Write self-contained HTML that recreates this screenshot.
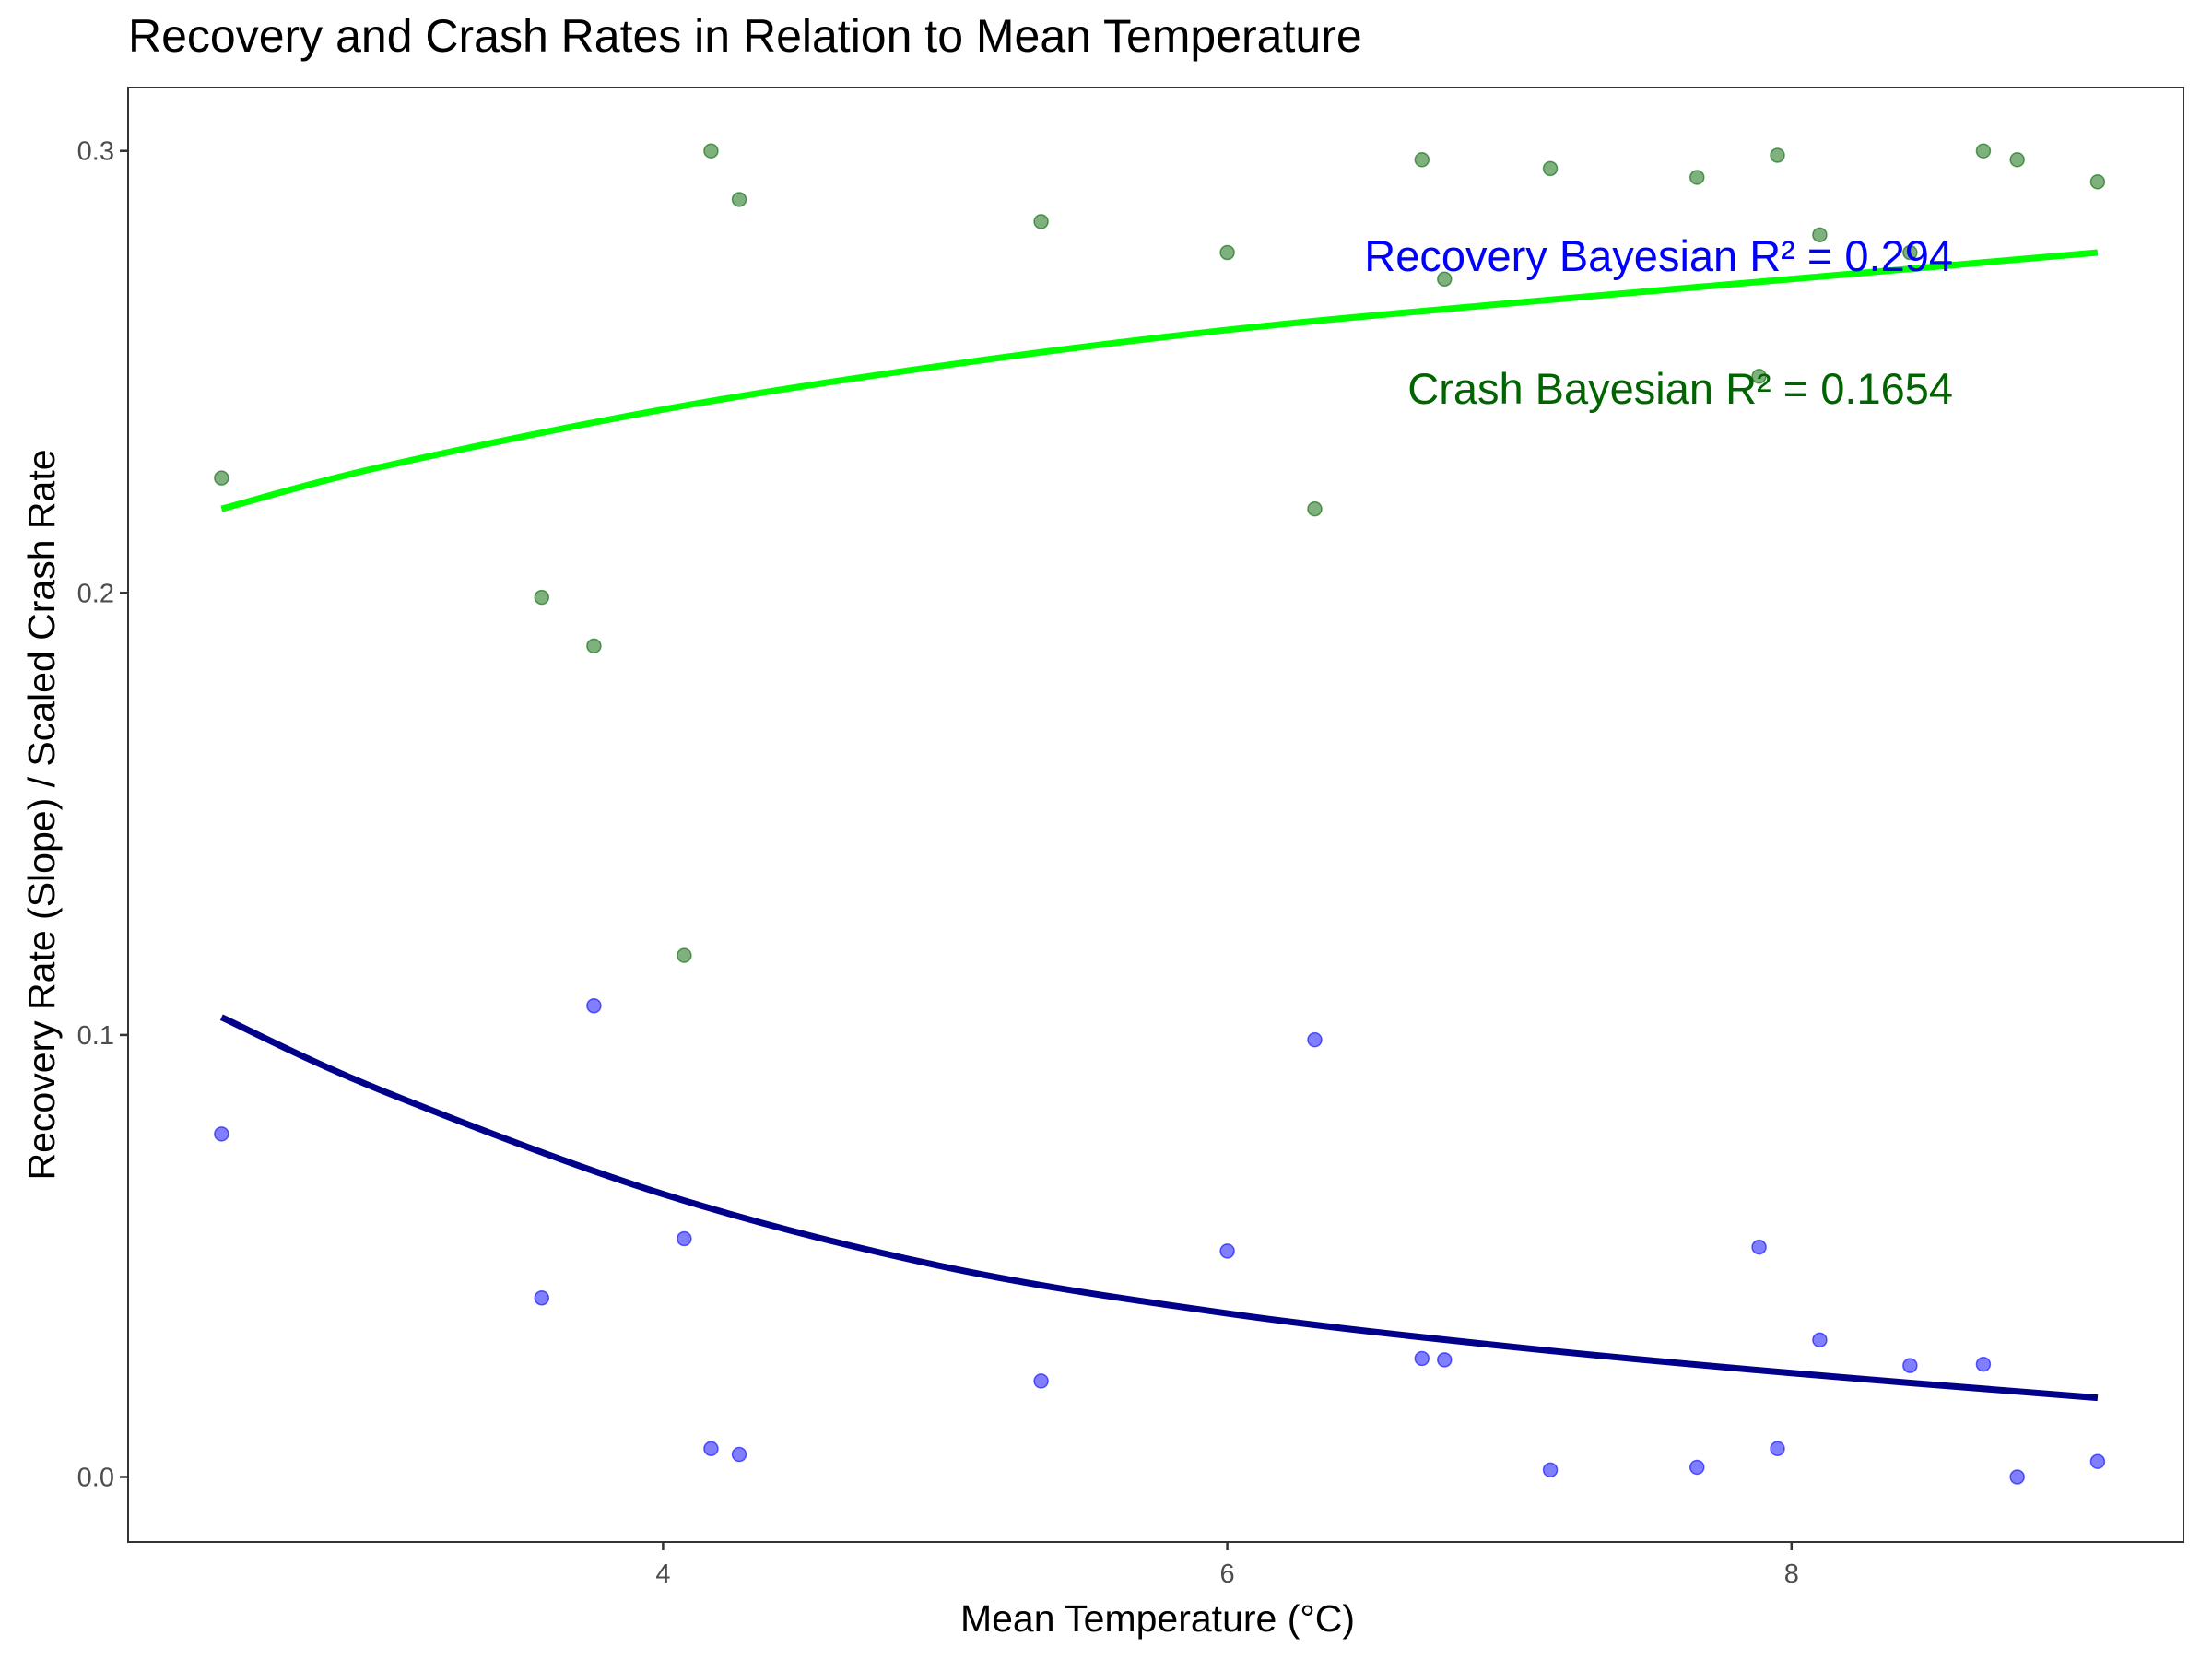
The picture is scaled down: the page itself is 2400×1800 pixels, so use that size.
<!DOCTYPE html>
<html><head><meta charset="utf-8"><style>
html,body{margin:0;padding:0;background:#fff;}
svg{display:block;font-family:"Liberation Sans",Arial,sans-serif;}
</style></head><body>
<svg id="chart" width="2400" height="1800" viewBox="0 0 2400 1800">
<rect width="2400" height="1800" fill="#fff"/>
<text x="139" y="56" font-size="50" fill="#000">Recovery and Crash Rates in Relation to Mean Temperature</text>
<g id="plot"></g>
<text x="1256" y="1770" font-size="41" text-anchor="middle" fill="#000">Mean Temperature (°C)</text>
<text transform="translate(59,884) rotate(-90)" font-size="41" text-anchor="middle" fill="#000">Recovery Rate (Slope) / Scaled Crash Rate</text>
</svg>
<script>
const temps = [2.435,3.57,3.755,4.075,4.17,4.27,5.34,6.0,6.31,6.69,6.77,7.145,7.665,7.885,7.95,8.10,8.42,8.68,8.80,9.085];
const crashScaled = [0.226,0.199,0.188,0.118,0.300,0.289,0.284,0.277,0.219,0.298,0.271,0.296,0.294,0.249,0.299,0.281,0.277,0.300,0.298,0.293];
const recovery = [0.0776,0.0405,0.1066,0.0539,0.0064,0.0051,0.0217,0.0511,0.0989,0.0268,0.0265,0.0016,0.0022,0.052,0.0064,0.031,0.0252,0.0255,0.0,0.0035];
const fitX = [2.435,3,4,5,6,7,8,9.085];
const crashFit = [0.219,0.2285,0.2415,0.2515,0.2595,0.2655,0.271,0.277];
const recoveryFit = [0.104,0.0875,0.064,0.0475,0.037,0.0295,0.0235,0.0179];
const xTicks = [4,6,8];
const yTicks = [0.0,0.1,0.2,0.3];
const yTickLabels = ["0.0","0.1","0.2","0.3"];

const NS="http://www.w3.org/2000/svg";
const P={l:139,r:2369,t:95,b:1673};
const xs=v=>719.4+(v-4)*306.1;
const ys=v=>1602.5-v*4796;
const g=document.getElementById('plot');
function mk(t,a){const e=document.createElementNS(NS,t);for(const k in a)e.setAttribute(k,a[k]);return e;}

const frame=mk('rect',{x:P.l,y:P.t,width:P.r-P.l,height:P.b-P.t,fill:'none',stroke:'#333',"stroke-width":2});


g.appendChild(frame);

xTicks.forEach(v=>{
  const t=mk('line',{x1:xs(v),x2:xs(v),y1:P.b,y2:P.b+9,stroke:'#333',"stroke-width":2.5});
  
  
  g.appendChild(t);
  const l=mk('text',{x:xs(v),y:P.b+44,"font-size":29,fill:'#4d4d4d',"text-anchor":'middle'});
  l.textContent=v;
  
  
  g.appendChild(l);
});
yTicks.forEach((v,i)=>{
  const t=mk('line',{x1:P.l-9,x2:P.l,y1:ys(v),y2:ys(v),stroke:'#333',"stroke-width":2.5});
  
  
  g.appendChild(t);
  const l=mk('text',{x:P.l-15,y:ys(v)+10,"font-size":29,fill:'#4d4d4d',"text-anchor":'end'});
  l.textContent=yTickLabels[i];
  
  
  g.appendChild(l);
});

function curve(xv,yv){
  const p=xv.map((x,i)=>[xs(x),ys(yv[i])]);
  let d='M'+p[0][0]+','+p[0][1];
  for(let i=0;i<p.length-1;i++){
    const p0=p[Math.max(0,i-1)],p1=p[i],p2=p[i+1],p3=p[Math.min(p.length-1,i+2)];
    const c1=[p1[0]+(p2[0]-p0[0])/6,p1[1]+(p2[1]-p0[1])/6];
    const c2=[p2[0]-(p3[0]-p1[0])/6,p2[1]-(p3[1]-p1[1])/6];
    d+='C'+c1+' '+c2+' '+p2;
  }
  return d;
}

temps.forEach((x,i)=>{
  const c=mk('circle',{cx:xs(x),cy:ys(crashScaled[i]),r:7.5,fill:'rgba(0,100,0,0.5)',stroke:'rgba(0,100,0,0.6)',"stroke-width":1.5});
  
  
  g.appendChild(c);
});
temps.forEach((x,i)=>{
  const c=mk('circle',{cx:xs(x),cy:ys(recovery[i]),r:7.5,fill:'rgba(0,0,255,0.5)',stroke:'rgba(0,0,255,0.6)',"stroke-width":1.5});
  
  
  g.appendChild(c);
});

const cl=mk('path',{d:curve(fitX,crashFit),fill:'none',stroke:'#00ff00',"stroke-width":7});


g.appendChild(cl);
const rl=mk('path',{d:curve(fitX,recoveryFit),fill:'none',stroke:'#00008b',"stroke-width":7});


g.appendChild(rl);

const a1=mk('text',{x:2119,y:294,"font-size":47,fill:'#0000ff',"text-anchor":'end'});
a1.textContent='Recovery Bayesian R² = 0.294';


g.appendChild(a1);
const a2=mk('text',{x:2119,y:438,"font-size":47,fill:'#006400',"text-anchor":'end'});
a2.textContent='Crash Bayesian R² = 0.1654';


g.appendChild(a2);
</script>
</body></html>
